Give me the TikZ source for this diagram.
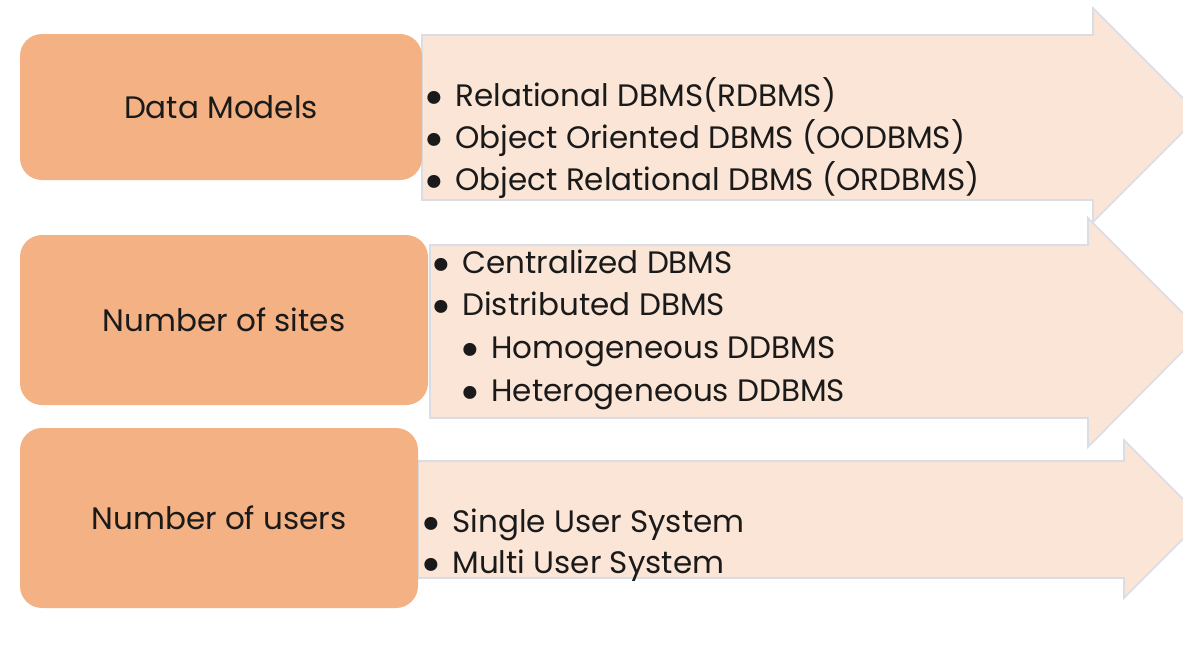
\documentclass[tikz,border=0pt]{standalone}
\usepackage{fontspec}
\usepackage{graphicx}
\setmainfont{Poppins}
\definecolor{boxorange}{HTML}{F4B183}
\definecolor{arrowpeach}{HTML}{FBE5D6}
\definecolor{arrowline}{HTML}{D9DEE6}
\definecolor{inktext}{HTML}{1A1A1A}
\newcommand{\bull}{\makebox[16pt][l]{\raisebox{-4.9pt}[0pt][0pt]{\scalebox{1.7}{\textbullet}}}}
\begin{document}
\begin{tikzpicture}[x=0.5pt, y=-0.5pt,
            cat/.style={draw=none, fill=boxorange, rounded corners=11pt},
            band/.style={draw=arrowline, fill=arrowpeach, line width=0.8pt, line join=miter},
            label/.style={font=\fontsize{15.5}{17}\selectfont, text=inktext, inner sep=0pt},
            item/.style={label, anchor=base west}
        ]
        \useasboundingbox (0,0) rectangle (1183,645);
        \clip (0,0) rectangle (1183,645);

        % Wide arrows behind the lists
        \draw[band] (422,35) -- (1093,35) -- (1093,8) -- (1200,115) -- (1093,222) -- (1093,200) -- (422,200) -- cycle;
        \draw[band] (430,245) -- (1088,245) -- (1088,218) -- (1202,332) -- (1088,447) -- (1088,418) -- (430,418) -- cycle;
        \draw[band] (418,461) -- (1124,461) -- (1124,440) -- (1203,519) -- (1124,598) -- (1124,578) -- (418,578) -- cycle;

        % Category boxes on the left
        \node[cat, minimum width=201pt, minimum height=73pt] (models) at (221,107) {};
        \node[cat, minimum width=204pt, minimum height=85pt] (sites) at (224,320) {};
        \node[cat, minimum width=199pt, minimum height=90pt] (users) at (219,518) {};
        \node[label] at (models) {Data Models};
        \node[label] at (sites) {Number of sites};
        \node[label] at (users) {Number of users};

        % Bullet lists, one line each
        \foreach \t [count=\n from 0] in {Relational DBMS(RDBMS), Object Oriented DBMS (OODBMS), Object Relational DBMS (ORDBMS)} {
                \node[item] (dm\n) at (423,106+42*\n) {\bull\t};
            }
        \foreach \t [count=\n from 0] in {Centralized DBMS, Distributed DBMS} {
                \node[item] (ns\n) at (430,273+42*\n) {\bull\t};
            }
        \foreach \t [count=\n from 2] in {Homogeneous DDBMS, Heterogeneous DDBMS} {
                \node[item] (ns\n) at (459,272+43*\n) {\bull\t};
            }
        \foreach \t [count=\n from 0] in {Single User System, Multi User System} {
                \node[item] (nu\n) at (420,532+41*\n) {\bull\t};
            }
    \end{tikzpicture}
\end{document}
